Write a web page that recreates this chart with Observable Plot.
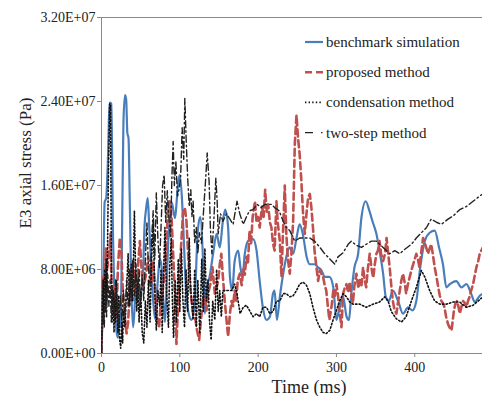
<!DOCTYPE html>
<html><head><meta charset="utf-8">
<script src="https://cdn.jsdelivr.net/npm/d3@7"></script>
<script src="https://cdn.jsdelivr.net/npm/@observablehq/plot@0.6"></script>
<style>
body{margin:0;background:#fff;}
#chart{position:relative;width:482px;height:396px;overflow:hidden}
</style>
</head><body><div id="chart"></div>
<script>
// values: [time ms, stress in 1E6 Pa]
const benchmark = [[0,0],[2,6],[4,14.4],[6,14.8],[8,18],[10.5,23.9],[12.5,23.8],[14.7,11.2],[17,4.9],[19,2.2],[21,1.5],[22.5,3.2],[24,2.5],[26,10],[28,22],[30,24.6],[31.5,24.2],[33,21],[34.5,20.5],[36,15],[38,6.5],[40.3,2.5],[42,4],[44.5,7.4],[47,6.5],[49,5.2],[51,6],[53,7.7],[55,12.2],[57,13.8],[59,14.8],[61,12],[64,7.7],[66,5],[68.4,3.3],[71,6],[74.8,9],[77,8],[79,5],[81,3],[83,6],[85,10.3],[87.5,13],[89.7,14.4],[92,13.5],[94,12.9],[96,14.5],[98,16.3],[100,17],[103,14.4],[105,11],[106.8,7.7],[109,5],[111,3.9],[115,3.2],[119,5],[123,11.7],[126,13],[130,8.2],[132,3.8],[134,6],[138,7.3],[142.5,9.5],[147,11.4],[151,10.1],[155,12.6],[158,13.7],[161.7,12],[164,7.3],[167,6],[170,8.8],[174.5,9.8],[177.4,8.2],[180,7.3],[183,9.5],[187,10.7],[193.6,10.9],[198,9.8],[202,6.9],[206,4.4],[210.6,3.2],[215,3.5],[219,5.7],[221,6],[224,3.2],[227.7,5.4],[232,7.6],[236,9.2],[240,10.1],[244.7,9.5],[249,11],[253,12.3],[257,11.4],[262,9.2],[266,8.5],[272,8.5],[276.6,8.2],[281,7.9],[285,7.3],[291,7.3],[296,6.3],[300,3.2],[304,4.4],[308.5,5.4],[313,3.5],[316,3.2],[319,5.7],[323,8.2],[327.7,9.5],[332,13],[337.4,14.5],[342,13.6],[346,12.6],[351,11.4],[355,9.8],[359.6,7.6],[363,5.4],[367,5],[372,6],[378.7,5],[385,3.8],[391.5,4.4],[397,4.1],[402,5],[407,8.2],[412.8,10.7],[419,11.5],[425.5,11.7],[431,10.1],[436,8.5],[440.4,6.3],[444.7,6.6],[453,6.9],[459.6,6.3],[466,6.6],[472,5.7],[476.6,4.9],[483,5.5],[487,5.7]];

const proposed = [[0,0],[1,5],[2,7.3],[3.5,6],[5.5,10],[7,8],[9.8,9.5],[11.5,11.4],[12.8,6],[15,5],[17,6.5],[19,3.5],[21,8.2],[23.4,11],[25.5,9.5],[27.7,5],[30,3.2],[32,1.9],[34,3],[36,6],[38,7.6],[40.4,8.8],[42.5,6.6],[44.7,5],[47,8.8],[49,10.7],[51,8.2],[53,6.3],[55,6.8],[57,7.6],[59.6,9.2],[62,8],[64,6.6],[66,8.8],[68,6.6],[70,3.8],[73.6,2.5],[75.7,5],[78.7,6.3],[81,8.2],[83,10.7],[85,13.9],[87,14.5],[89.4,13],[91.5,9.5],[93.6,5.7],[95.7,0.9],[98,5],[100,8.2],[102,10.7],[104,13.3],[106.4,13.9],[108.5,12.6],[110.6,9.5],[112.8,6.9],[115,5],[117,3.8],[120,3.2],[122,2.2],[124.7,1.3],[127,3.2],[130,5.4],[132,5],[134,4.1],[136,5.7],[139,6.6],[141.7,8.2],[144.7,5.7],[147,6.3],[149,6.9],[151,8.5],[153,9.5],[155,7.3],[157.4,5],[159.6,3.2],[161.7,1.6],[164,3.8],[166,5],[168,4.5],[170,6],[172,5],[174,7],[176.6,7.6],[179,6.5],[181,8],[183,7.5],[185,9.2],[187,8.5],[189,11.7],[191,10.5],[193,13],[196,14.5],[198,12.5],[200,13],[202,12],[205,14],[207,13],[209,15.6],[211,13.5],[212.8,14.2],[215,12.5],[217,12],[219,10.5],[221,9.8],[223.4,14.5],[225,12.5],[227.7,10.7],[229.8,7.3],[231.5,11],[234,16],[236,11.4],[238,9],[240.4,7.6],[242.5,9.5],[244.7,12.6],[246.8,19.9],[249,22.7],[251,20.5],[253,19],[255,16.7],[257.4,13.3],[259.6,11.4],[261.7,13.3],[263.8,14.8],[266,15.2],[268,13.9],[270,12],[272,9.8],[274.5,8.2],[276.6,6.9],[279,8],[281,7.5],[283,7.3],[285,6.5],[287,6],[289,4.5],[291,3.2],[293.6,4.4],[296,6],[298,5.5],[300,6.6],[302,5.5],[304,4.1],[306.4,2.5],[308.5,5.7],[310.5,6.2],[312.8,6.6],[315,5.8],[317,6.8],[319,5.5],[321,4.8],[323,6.5],[325.5,7.6],[328,6.2],[330,7],[332,6.5],[334,8.2],[336,7],[338,6.3],[340,8],[342.5,9.5],[345,8],[347,7.2],[349,8.5],[351,9.5],[353,9.8],[355,10.7],[357,9.5],[359.6,8.8],[362,9.5],[364,11],[366,9.6],[368,8.2],[370,6.5],[372,5],[374,4.2],[376.6,3.8],[378.5,4.8],[380.9,6],[383,7],[385,7.6],[387,6.8],[389,5.7],[391,6.5],[393.6,7.3],[396,8],[398,8.5],[400,9],[402,9.5],[404,9],[406,8.2],[408,9.5],[410.6,11],[413,10.5],[415,10],[417,9.5],[419,10],[421,10.4],[423,9.5],[425.5,8.2],[428,7.2],[430,6.3],[432,5.5],[434,5],[436,4.8],[438,4.4],[440,3.5],[442.5,2.8],[445,2.4],[447,2.2],[450,4.1],[452,4.8],[454,5],[456,4.4],[457.5,3.8],[459.5,4.4],[461.7,5],[464,4.8],[466,4.4],[468,5],[470,5.4],[472,6],[474.5,6.6],[476.5,7.4],[478.7,8.2],[481,8.8],[483,9.5],[487,10.1]];

const condensation = [[0,0],[1,4],[2,7],[3,3],[4,8],[5,4],[6,9],[7,5],[8,12],[9,18],[10.5,23.8],[11.5,23.6],[12.5,10],[13.5,3],[15,6],[16,2],[17,5],[18,3],[19,7],[20,4],[21,2],[22,5.5],[23,1.5],[24.5,0.5],[26,3],[27,1],[28,4],[30,2.5],[32,6],[34,9.5],[36,4.5],[38,8.5],[40,5],[42,13.6],[43.5,8],[45,4],[46.5,7],[48,3],[50,6],[52,2],[54,1],[56,5],[58,2.5],[60,7],[62,3],[64,9],[66,12.5],[68,6],[70,2.2],[72,6],[74.5,4.5],[76,8],[77.5,2],[79,7],[81,12],[83,6],[85.5,2.5],[87,8],[89,11],[90.5,5],[92,1.5],[94,7],[95.7,3],[98,9],[100,4],[102,10],[104,5],[106,2.5],[108,8],[110,4],[112,11],[114,6],[117,3.2],[119,8],[121,2.5],[123,7],[125.5,1.9],[128,9],[130,4],[132,10],[134,5],[136,7],[138,3],[140,1.3],[142,5],[144.7,3.2],[147,8],[149,4],[151,6],[153,3.5],[155,6],[157.4,6],[161.7,6],[166,6],[170,6.6],[173,5.7],[177,3.8],[181,4.4],[185,4.6],[189,4.1],[193.6,3.5],[198,3.8],[202,3.5],[206,4.4],[210.6,4.4],[215,3.8],[219,4],[223.4,5],[227.7,5],[232,5.7],[236,5.7],[240.4,5.4],[244.7,5.5],[249,6],[253,6.6],[257.4,6.8],[261.7,6.5],[266,5.7],[270,4.4],[274.5,3.2],[278.7,2.5],[283,2],[287,1.9],[291.5,2.2],[295.7,3.2],[300,4.1],[304,5],[308.5,5.7],[312.8,5.4],[317,4.9],[321,4.7],[329.8,4.7],[338,4.4],[346.8,4.7],[355,4.9],[361.7,5.4],[366,5],[370,4],[376.6,3.3],[383,3],[389,3.5],[395.7,5],[402,6.3],[408.5,7.9],[412.8,7.3],[419,6],[425.5,5],[432,4.7],[440.4,4.7],[449,4.9],[457.4,4.9],[466,4.4],[474.5,4.6],[481,5],[487,5.4]];

const twoStep = [[0,0],[2,4],[3.5,2.5],[5,6],[6.5,3.5],[8,7.5],[9.5,4.5],[11,7],[12.5,3],[14,6.5],[16,3.5],[18,7],[20,4.5],[22,2.5],[24,5.5],[26,3],[28,6],[30,3.5],[32,7],[34,4.5],[36,8],[38,5],[40,9],[42,5.5],[44,8.5],[46,5],[48,8],[50,4.5],[52,7.5],[54,5],[56,9],[58,12.5],[60,8],[62,6.5],[64,11],[66,13.6],[68,9],[70,15.3],[72,11],[74,8.2],[76,12],[78,16],[80,17],[82,12.5],[84,15.5],[86,13],[88,11],[90,17],[91.5,20.2],[93,16],[95,18.3],[97,15],[99,15.6],[101,16.7],[103,21.5],[105,18.5],[106.4,24.3],[108,20.6],[110,16.8],[112,14],[114,15.6],[115.5,13],[117,14.5],[119,10.5],[121,12],[123,9.5],[125,11.5],[127.7,10.5],[130.6,13.9],[132.8,16.4],[135,19.1],[137.4,16.4],[139,12],[141,9.5],[143.4,12.6],[146,16.7],[147.7,14.5],[149,11.4],[152,13.3],[155,12.6],[159.6,13.3],[164,12.8],[168,12.3],[173,14.5],[176.6,13.3],[181,12.3],[185,13],[189,13.6],[193.6,13.7],[198.7,14.2],[204,13.9],[208.5,14.2],[212.8,14.2],[217,14.2],[221,13.9],[226.8,13.6],[232,12.6],[236,12],[240.4,11.7],[246.8,10.7],[253,11],[259.6,11],[266,11],[272,10.7],[279,10.1],[285,9.5],[291.5,9],[297.9,8.5],[302,9.2],[308.5,9.6],[315,10.4],[319,10.7],[325.5,10.3],[332,10.1],[338,10.4],[344.7,10.7],[351,10.7],[359.6,10.1],[368,9.5],[374.5,9.8],[380.9,9.5],[387,9.9],[395.7,10.4],[402,11],[408.5,11.5],[415,12],[421,12.8],[427.7,12.5],[434,12.3],[442.5,12.8],[449,13.1],[457.4,13.7],[466,14],[474.5,14.5],[483,15],[487,15.2]];

const seriesNames = ["benchmark simulation", "proposed method", "condensation method", "two-step method"];
const xTicks = [0, 100, 200, 300, 400];
const yTicks = [0, 8e6, 1.6e7, 2.4e7, 3.2e7];
const xLabel = "Time (ms)";
const yLabel = "E3 axial stress (Pa)";

const seriesData = [benchmark, proposed, condensation, twoStep];
const styles = [
  {stroke: "#4a7ebb", strokeWidth: 2.2, dash: null, legendDash: null, curve: "monotone-x"},
  {stroke: "#c0504d", strokeWidth: 2.6, dash: "7,4", legendDash: "7,4", curve: "linear"},
  {stroke: "#111111", strokeWidth: 1.6, dash: "1.4,2.2", legendDash: "1.4,2.2", curve: "linear"},
  {stroke: "#222222", strokeWidth: 1.4, dash: "7,3,1.5,3", legendDash: "8,8,1.5,4", curve: "linear"}
];

function sci(v) {
  if (v === 0) return "0.00E+00";
  const e = Math.floor(Math.log10(Math.abs(v)));
  const m = v / Math.pow(10, e);
  return m.toFixed(2) + "E" + (e >= 0 ? "+" : "-") + String(Math.abs(e)).padStart(2, "0");
}

const font = '"Liberation Serif", "DejaVu Serif", serif';

const marks = [
  Plot.ruleY([3.2e7], {stroke: "#8a8a8a", strokeWidth: 1}),
  Plot.ruleX([0], {stroke: "#8a8a8a", strokeWidth: 1}),
  Plot.ruleY([0], {stroke: "#8a8a8a", strokeWidth: 1}),
  Plot.axisY({ticks: yTicks, tickFormat: sci, tickSize: 4, tickPadding: 2, fontSize: 14, label: null, stroke: "#8a8a8a", fill: "#222"}),
  Plot.axisX({ticks: xTicks, tickFormat: d => String(d), tickSize: 4, tickPadding: 5, fontSize: 14, label: null, stroke: "#8a8a8a", fill: "#222"}),
  ...seriesData.map((data, i) => Plot.line(data, {
    x: d => d[0], y: d => d[1] * 1e6,
    stroke: styles[i].stroke, strokeWidth: styles[i].strokeWidth,
    strokeDasharray: styles[i].dash, curve: styles[i].curve, clip: true
  }))
];

const svg = Plot.plot({
  width: 482, height: 396,
  marginLeft: 101, marginRight: 0, marginTop: 17, marginBottom: 43,
  x: {domain: [0, 486.5]},
  y: {domain: [0, 3.2e7]},
  style: {background: "#fff", color: "#222"},
  marks
});

const root = d3.select(svg);
// axis titles
root.append("text").attr("transform", "translate(25,163) rotate(-90)")
  .attr("text-anchor", "middle").attr("dominant-baseline", "central")
  .attr("fill", "#222").style("font-size", "17px").text(yLabel);
root.append("text").attr("x", 309).attr("y", 386.5)
  .attr("text-anchor", "middle").attr("dominant-baseline", "central")
  .attr("fill", "#222").style("font-size", "18px").text(xLabel);

// in-plot legend
const lg = root.append("g");
seriesNames.forEach((name, i) => {
  const y = 42 + i * 30.2;
  const st = styles[i];
  const ln = lg.append("line").attr("x1", 305).attr("x2", 323).attr("y1", y).attr("y2", y)
    .attr("stroke", st.stroke).attr("stroke-width", st.strokeWidth);
  if (st.legendDash) ln.attr("stroke-dasharray", st.legendDash);
  lg.append("text").attr("x", 326).attr("y", y).attr("text-anchor", "start")
    .attr("dominant-baseline", "central").attr("fill", "#222")
    .style("font-size", "15px").text(name);
});

// serif typeface for every text
root.attr("font-family", font).style("font-family", font);
root.selectAll("text").attr("font-family", font).style("font-family", font).style("font-weight", "normal");

document.getElementById("chart").appendChild(svg);
</script>
</body></html>
